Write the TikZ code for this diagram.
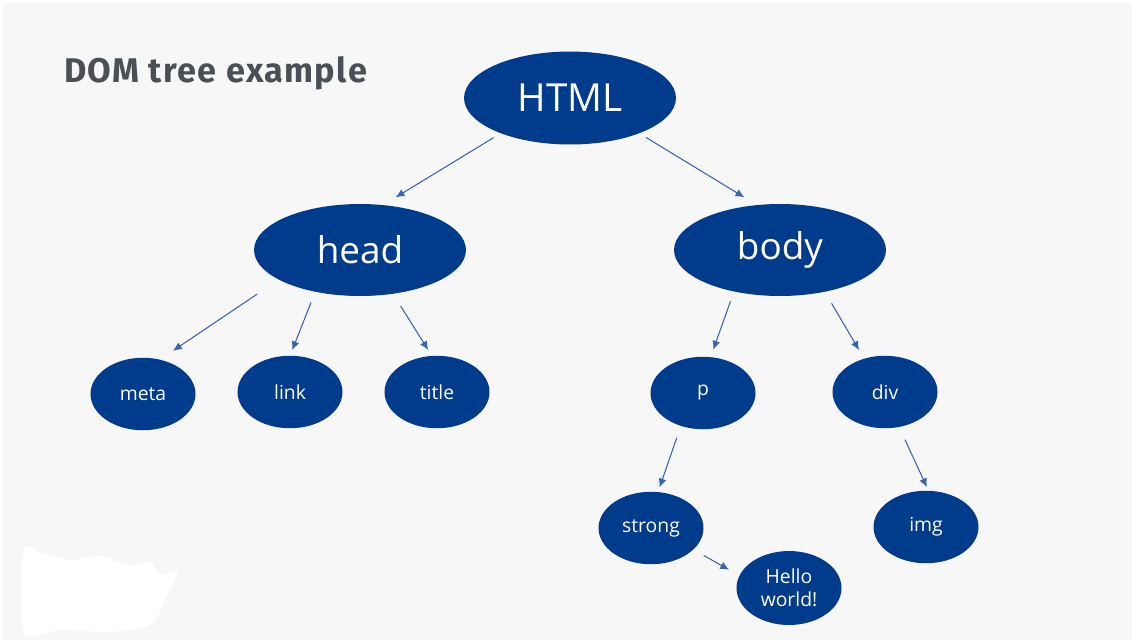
\documentclass[tikz,border=0pt]{standalone}
\usepackage{fontspec}
\setmainfont{Open Sans}
\newfontfamily\titlefont{Fira Sans}[LetterSpace=4]
\usepackage{xcolor}
\usetikzlibrary{shapes.geometric,arrows.meta}
\definecolor{domblue}{HTML}{003B8C}
\definecolor{edgeblue}{HTML}{3A65AE}
\definecolor{slidegray}{HTML}{F7F7F7}
\definecolor{titlegray}{HTML}{4A5055}

\begin{document}
\begin{tikzpicture}[x=0.02cm,y=-0.02cm,
			every node/.style={ellipse,fill=domblue,text=white,inner sep=0pt,outer sep=0pt},
			big/.style={minimum width=4.24cm,minimum height=1.84cm,font=\fontsize{21}{25}\selectfont},
			small/.style={minimum width=2.1cm,minimum height=1.45cm,font=\fontsize{11}{13}\selectfont},
			edge/.style={draw=edgeblue,line width=0.6pt,-{Latex[length=5pt,width=4.5pt]}}]
		% slide
		\fill[white] (0,0) rectangle (1132,640);
		\fill[slidegray] (3,3) rectangle (1132,640);
		\useasboundingbox (0,0) rectangle (1132,640);
		\fill[white] plot[smooth cycle] coordinates {(24,548) (40,552) (70,560) (100,556) (130,565) (150,562) (160,575) (178,572) (165,600) (150,625) (110,632) (60,630) (26,636) (22,600)};
		\node[rectangle,fill=none,text=titlegray,anchor=west,font=\titlefont\bfseries\fontsize{19.5}{22}\selectfont] (heading) at (64,73) {DOM tree example};
		% tree
		\node[big,minimum height=1.86cm,font=\fontsize{22}{26}\selectfont] (html) at (570,98) {HTML};
		\node[big] (head) at (360,250) {head};
		\node[big] (body) at (780,250) {body};
		\node[small] (meta) at (143,394) {meta};
		\node[small] (link) at (290,392) {link};
		\node[small] (title) at (437,392) {title};
		\node[small] (p) at (703,393) {p};
		\node[small] (div) at (885,392) {div};
		\node[small] (strong) at (651,528) {strong};
		\node[small] (img) at (926,527) {img};
		\node[small,align=center,minimum height=1.48cm] (hello) at (789,588) {Hello\\world!};
		% arrows
		\draw[edge,shorten <=0.17cm,shorten >=0.30cm] (html.207) -- (head.63);
		\draw[edge,shorten <=0.16cm,shorten >=0.30cm] (html.333) -- (body.117);
		\draw[edge,shorten <=0.52cm,shorten >=0.32cm] (head.200) -- (meta.64);
		\draw[edge,shorten <=0.23cm,shorten >=0.12cm] (head.223) -- (link.90);
		\draw[edge,shorten <=0.29cm,shorten >=0.14cm] (head.307) -- (title.98);
		\draw[edge,shorten <=0.21cm,shorten >=0.16cm] (body.222) -- (p.78);
		\draw[edge,shorten <=0.27cm,shorten >=0.20cm] (body.317) -- (div.122);
		\draw[edge,shorten <=0.25cm,shorten >=0.10cm] (p.236) -- (strong.79);
		\draw[edge,shorten <=0.28cm,shorten >=0.08cm] (div.292) -- (img.86);
		\draw[edge,shorten <=0.24cm,shorten >=0.24cm] (strong.333) -- (hello.166);
\end{tikzpicture}
\end{document}
